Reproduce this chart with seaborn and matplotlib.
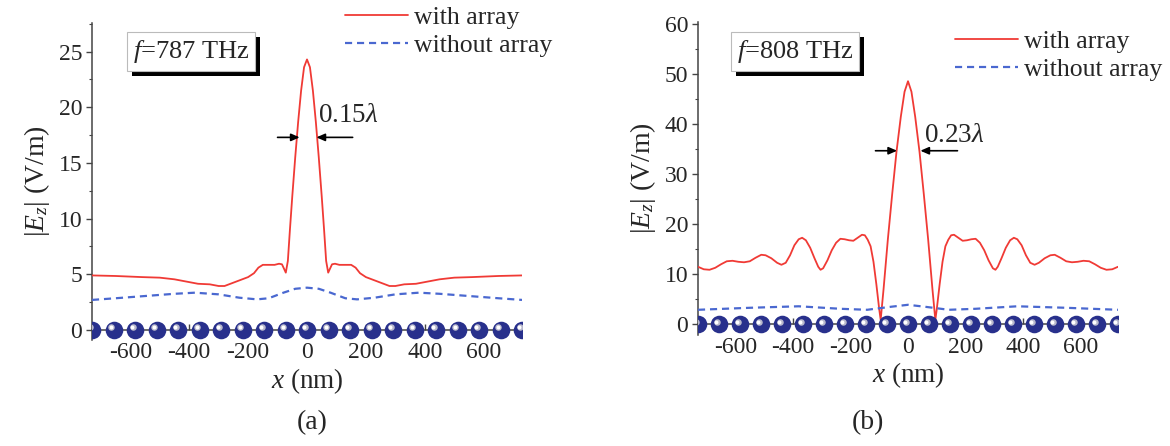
import matplotlib
matplotlib.use("Agg")
import matplotlib.pyplot as plt
import matplotlib.patheffects as pe
from matplotlib.transforms import offset_copy
from matplotlib.ticker import MultipleLocator
import seaborn as sns
import pandas as pd

# ---------------- data ----------------
xa_red = [-730, -650, -560, -500, -450, -400, -370, -330, -300, -280, -260, -230, -200, -180, -165,
          -150, -130, -110, -95, -85, -78, -72, -65, -58, -50, -40, -30, -20, -10, 0,
          10, 20, 30, 40, 50, 58, 65, 72, 78, 85, 95, 110, 130, 150, 165, 180, 200,
          230, 260, 280, 300, 330, 370, 400, 450, 500, 560, 650, 730]
ya_red = [4.9, 4.85, 4.75, 4.7, 4.55, 4.3, 4.15, 4.1, 3.95, 3.95, 4.15, 4.45, 4.75, 5.1, 5.6,
          5.85, 5.85, 5.85, 5.95, 5.9, 5.5, 5.15, 6.2, 9.0, 12.0, 15.5, 18.7, 21.5, 23.6, 24.3,
          23.6, 21.5, 18.7, 15.5, 12.0, 9.0, 6.2, 5.15, 5.5, 5.9, 5.95, 5.85, 5.85, 5.85, 5.6, 5.1, 4.75,
          4.45, 4.15, 3.95, 3.95, 4.1, 4.15, 4.3, 4.55, 4.7, 4.75, 4.85, 4.9]
xa_blue = [-730, -650, -550, -450, -380, -300, -230, -170, -130, -80, -40, 0,
           40, 80, 130, 170, 230, 300, 380, 450, 550, 650, 730]
ya_blue = [2.7, 2.85, 3.05, 3.25, 3.35, 3.2, 2.9, 2.75, 2.85, 3.35, 3.7, 3.8,
           3.7, 3.35, 2.85, 2.75, 2.9, 3.2, 3.35, 3.25, 3.05, 2.85, 2.7]

xb_red = [-730, -710, -690, -670, -650, -630, -610, -590, -570, -550, -530, -510, -495, -475,
          -455, -440, -425, -410, -395, -380, -368, -355, -340, -325, -312, -304, -295, -280,
          -265, -250, -235, -220, -205, -190, -175, -160, -150, -140, -130, -120, -110, -100,
          -95, -85, -70, -55, -40, -25, -12, 0,
          12, 25, 40, 55, 70, 85, 95, 100, 110, 120, 130, 140, 150, 160, 175, 190, 205, 220,
          235, 250, 265, 280, 295, 304, 312, 325, 340, 355, 368, 380, 395, 410, 425, 440, 455,
          475, 495, 510, 530, 550, 570, 590, 610, 630, 650, 670, 690, 710, 730]
yb_red = [11.5, 11.0, 10.9, 11.3, 12.0, 12.6, 12.7, 12.5, 12.4, 12.6, 13.3, 13.9, 13.8, 13.2,
          12.3, 11.9, 12.3, 13.8, 15.8, 17.0, 17.3, 16.8, 15.3, 13.2, 11.5, 10.9, 11.2, 12.8,
          14.8, 16.3, 17.1, 17.0, 16.8, 16.7, 17.3, 17.9, 17.8, 16.9, 15.6, 12.5, 8.0, 3.0,
          0.9, 7.0, 17.0, 26.0, 34.5, 41.5, 46.5, 48.6,
          46.5, 41.5, 34.5, 26.0, 17.0, 7.0, 0.9, 3.0, 8.0, 12.5, 15.6, 16.9, 17.8, 17.9, 17.3,
          16.7, 16.8, 17.0, 17.1, 16.3, 14.8, 12.8, 11.2, 10.9, 11.5, 13.2, 15.3, 16.8, 17.3,
          17.0, 15.8, 13.8, 12.3, 11.9, 12.3, 13.2, 13.8, 13.9, 13.3, 12.6, 12.4, 12.5, 12.7,
          12.6, 12.0, 11.3, 10.9, 11.0, 11.5]
xb_blue = [-730, -550, -380, -235, -142, -60, 0, 60, 142, 235, 380, 550, 730]
yb_blue = [2.9, 3.3, 3.6, 3.1, 2.9, 3.5, 3.9, 3.5, 2.9, 3.1, 3.6, 3.3, 2.9]

atoms_x = [-730, -657, -584, -511, -438, -365, -292, -219, -146, -73, 0,
           73, 146, 219, 292, 365, 438, 511, 584, 657, 730]

x_ticks = [-600, -400, -200, 0, 200, 400, 600]
labels = ["with array", "without array"]
freq_labels = ["787", "808"]
fwhm_labels = ["0.15", "0.23"]
panel_labels = ["(a)", "(b)"]

# ---------------- style ----------------
sns.set_style("ticks")
plt.rcParams["font.family"] = ["Liberation Serif", "DejaVu Serif"]
plt.rcParams["mathtext.fontset"] = "custom"
plt.rcParams["mathtext.rm"] = "Liberation Serif"
plt.rcParams["mathtext.it"] = "Liberation Serif:italic"
plt.rcParams["mathtext.bf"] = "Liberation Serif:bold"

RED = "#F03A35"
BLUE = "#4A68D0"
NAVY = "#28308C"
AXC = "#444444"

fig = plt.figure(figsize=(11.7, 4.46), dpi=100)
W, H = 1170, 446

def fx(px):
    return px / W

def fy(py):
    return 1 - py / H

ax_a = fig.add_axes([fx(92), fy(340), fx(430), (340 - 22.7) / H])
ax_b = fig.add_axes([fx(698), fy(335.3), fx(420), (335.3 - 21.7) / H])

panels = [
    dict(ax=ax_a, xr=xa_red, yr=ya_red, xbl=xa_blue, ybl=ya_blue, ylim=(-0.9, 27.6),
         ymaj=5, ymin=2.5, arrow_y=17.3, arr_l=(-100, -25), arr_r=(155, 32), txt=(37, 19.3),
         leg=(345, 6), box=(191, 51.5), plabel=(312, 423)),
    dict(ax=ax_b, xr=xb_red, yr=yb_red, xbl=xb_blue, ybl=yb_blue, ylim=(-2.2, 60.5),
         ymaj=10, ymin=5, arrow_y=34.7, arr_l=(-113, -38), arr_r=(172, 43), txt=(54, 37.8),
         leg=(955, 30), box=(795, 51.5), plabel=(868, 423)),
]

for i, p in enumerate(panels):
    ax = p["ax"]
    dr = pd.DataFrame({"x": p["xr"], "y": p["yr"]})
    db = pd.DataFrame({"x": p["xbl"], "y": p["ybl"]})
    sns.lineplot(data=dr, x="x", y="y", ax=ax, color=RED, lw=1.3, label=labels[0],
                 estimator=None, sort=False, zorder=4)
    sns.lineplot(data=db, x="x", y="y", ax=ax, color=BLUE, lw=1.6, label=labels[1],
                 estimator=None, sort=False, zorder=4, linestyle=(0, (3.2, 2.2)))

    # atoms
    da = pd.DataFrame({"x": atoms_x, "y": [0] * len(atoms_x)})
    sns.scatterplot(data=da, x="x", y="y", ax=ax, s=160, color=NAVY, edgecolor=NAVY,
                    linewidth=0, zorder=5)
    hl = offset_copy(ax.transData, fig=fig, x=-1.8, y=1.8, units="points")
    ax.scatter(da["x"], da["y"], s=22, color="#B8B8CC", linewidths=0, zorder=6, transform=hl)
    hl2 = offset_copy(ax.transData, fig=fig, x=-2.0, y=2.0, units="points")
    ax.scatter(da["x"], da["y"], s=8, color="white", linewidths=0, zorder=7, transform=hl2)

    ax.set_xlim(-730, 730)
    ax.set_ylim(*p["ylim"])
    sns.despine(ax=ax)
    ax.spines["bottom"].set_position(("data", 0))
    for s in ("left", "bottom"):
        ax.spines[s].set_color(AXC)
        ax.spines[s].set_linewidth(1.1)
    ax.set_xticks(x_ticks)
    ax.set_xticklabels([str(v) for v in x_ticks])
    ax.yaxis.set_major_locator(MultipleLocator(p["ymaj"]))
    ax.yaxis.set_minor_locator(MultipleLocator(p["ymin"]))
    ax.tick_params(axis="x", direction="in", length=4, width=1, color=AXC, labelsize=17, pad=9)
    ax.tick_params(axis="y", which="major", direction="out", length=4, width=1, color=AXC,
                   labelsize=17, pad=3)
    ax.tick_params(axis="y", which="minor", direction="out", length=2.5, width=0.8, color=AXC)
    ax.set_xlabel(r"$x$ (nm)", fontsize=19.5, labelpad=2)
    ax.set_ylabel(r"$|E_z|$ (V/m)", fontsize=20, labelpad=5)

    # legend
    lx, ly = p["leg"]
    ax.legend(loc="upper left", bbox_to_anchor=(fx(lx), fy(ly)), bbox_transform=fig.transFigure,
              frameon=False, fontsize=18.5, handlelength=2.45, handletextpad=0.25,
              labelspacing=0.18, borderpad=0, borderaxespad=0)

    # frequency box with shadow
    bx, by = p["box"]
    t = fig.text(fx(bx), fy(by), r"$f$=" + freq_labels[i] + " THz", fontsize=19,
                 ha="center", va="center",
                 bbox=dict(boxstyle="square,pad=0.22", fc="white", ec="#BBBBBB", lw=0.8))
    t.get_bbox_patch().set_path_effects([
        pe.SimplePatchShadow(offset=(3.5, -3.5), shadow_rgbFace="black", alpha=1.0),
        pe.Normal()])

    # FWHM arrows
    ay = p["arrow_y"]
    for (x0, x1) in (p["arr_l"], p["arr_r"]):
        ax.annotate("", xy=(x1, ay), xytext=(x0, ay),
                    arrowprops=dict(arrowstyle="-|>,head_length=0.5,head_width=0.22",
                                    color="black", lw=1.2, shrinkA=0, shrinkB=0), zorder=6)
    ax.text(p["txt"][0], p["txt"][1], fwhm_labels[i] + r"$\lambda$", fontsize=19.5,
            ha="left", va="center", zorder=6)

    fig.text(fx(p["plabel"][0]), fy(p["plabel"][1]), panel_labels[i], fontsize=20,
             ha="center", va="center")

fig.savefig("out.png", dpi=100, facecolor="white")
